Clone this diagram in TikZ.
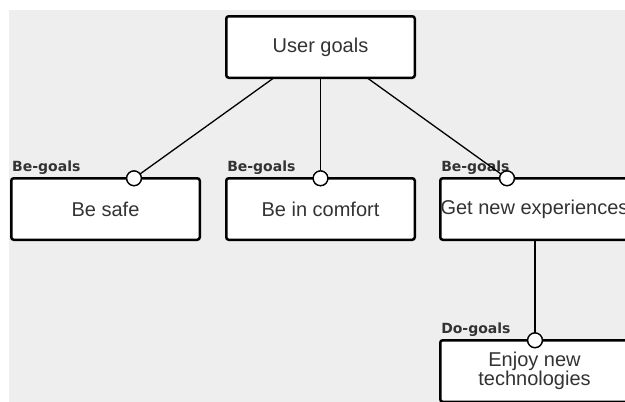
\documentclass[tikz,border=0pt]{standalone}
\usepackage{fontspec}
\setmainfont{Liberation Sans}
\newfontfamily\labelfont{DejaVu Sans}
\definecolor{bgc}{HTML}{EEEEEE}
\definecolor{txt}{HTML}{333333}
\begin{document}
\begin{tikzpicture}[x=1pt,y=-1pt,
 goalbox/.style={draw=black, line width=2.5pt, rounded corners=2.5pt, fill=white,
   minimum width=188.5pt, minimum height=61.5pt, inner sep=0pt, outer sep=0pt,
   text=txt, font=\fontsize{20}{19.5}\selectfont, align=center},
 port/.style={circle, draw=black, line width=1.3pt, fill=white, minimum size=14.7pt,
   inner sep=0pt, outer sep=0pt},
 link/.style={line width=1.3pt, draw=black},
 kind/.style={anchor=base west, inner sep=0pt, outer sep=0pt, text=txt,
   font=\labelfont\bfseries\fontsize{14}{14}\selectfont}]
\useasboundingbox (0,0) rectangle (625,402);
\clip (0,0) rectangle (625,402);
\fill[bgc] (9,10) rectangle (630,410);
% boxes
\node[goalbox] (ug) at (320.5,47) {User goals};
\node[goalbox] (bs) at (105.5,209) {Be safe};
\node[goalbox] (bc) at (320.5,209) {Be in comfort};
\node[goalbox] (ge) at (534.5,209) {Get new experiences};
\node[goalbox] (en) at (534.5,371) {Enjoy new\\technologies};
% kind labels
\node[kind] (l1) at ([xshift=1pt,yshift=6.5pt]bs.north west) {Be-goals};
\node[kind] (l2) at ([xshift=1pt,yshift=6.5pt]bc.north west) {Be-goals};
\node[kind] (l3) at ([xshift=1pt,yshift=6.5pt]ge.north west) {Be-goals};
\node[kind] (l4) at ([xshift=1pt,yshift=6.5pt]en.north west) {Do-goals};
% ports
\node[port] (c1) at (134,178.3) {};
\node[port] (c2) at (320.5,178.3) {};
\node[port] (c3) at (507,178.3) {};
\node[port] (c4) at (535,340.3) {};
% links
\draw[link] ([xshift=-46.5pt]ug.south) -- (c1);
\draw[link] (ug.south) -- (c2);
\draw[link] ([xshift=46.5pt]ug.south) -- (c3);
\draw[link] (ge.south -| c4) -- (c4);
% redraw ports on top
\node[port] at (c1) {};
\node[port] at (c2) {};
\node[port] at (c3) {};
\node[port] at (c4) {};
\end{tikzpicture}
\end{document}
